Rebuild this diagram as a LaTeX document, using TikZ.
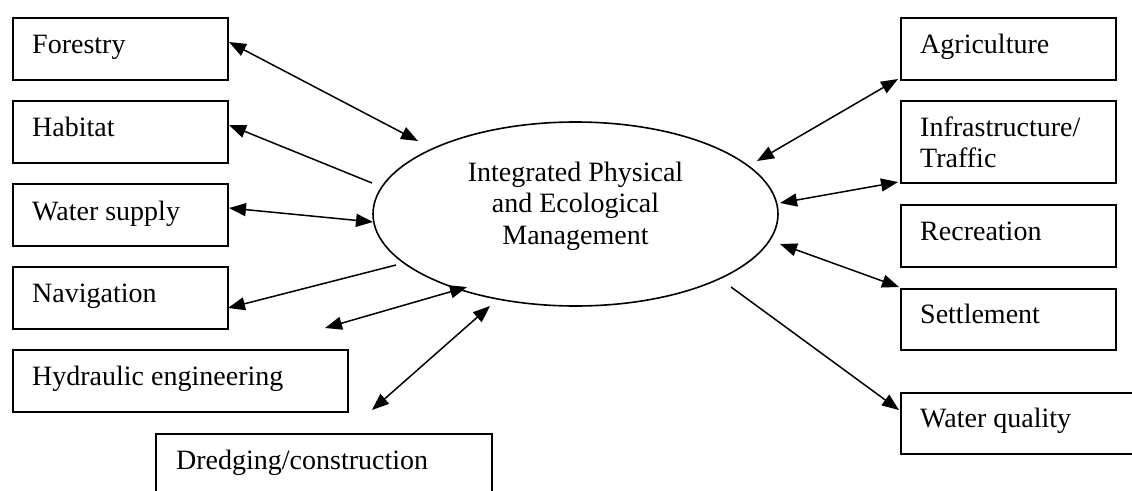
\documentclass[tikz,border=0pt]{standalone}
\usepackage{fontspec}
\setmainfont{Liberation Serif}
\usetikzlibrary{arrows.meta,shapes.geometric}
\tikzset{
  box/.style={draw, line width=2.2pt, anchor=north west, inner sep=0pt, minimum width=215pt, minimum height=62pt},
  lbl/.style={anchor=base west, inner sep=0pt, font=\fontsize{28}{31}\selectfont},
  conn/.style={line width=1.5pt, >={Triangle[length=17pt,width=13pt]}},
}
\begin{document}
\begin{tikzpicture}[x=1pt,y=-1pt]
\useasboundingbox (0,0) rectangle (1132,490);
\clip (0,0) rectangle (1132,490);

% central ellipse
\node[draw, ellipse, line width=1.6pt, minimum width=405pt, minimum height=184pt, inner sep=0pt] (iem) at (575.5,214) {};
\node[anchor=base, inner sep=0pt, font=\fontsize{28}{31.5}\selectfont] (iemT) at (575.5,181)
  {\begin{tabular}[t]{@{}c@{}}Integrated Physical\\and Ecological\\Management\end{tabular}};

% left boxes
\node[box] (forestry) at (12,16.5) {};
\node[lbl] (forestryT) at (32,53.5) {Forestry};
\node[box] (habitat) at (12,99.5) {};
\node[lbl] (habitatT) at (32,136.5) {Habitat};
\node[box] (water) at (12,182.5) {};
\node[lbl] (waterT) at (32,220) {Water supply};
\node[box] (navig) at (12,265.5) {};
\node[lbl] (navigT) at (32,302.5) {Navigation};
\node[box, minimum width=335pt] (hydr) at (12,348.5) {};
\node[lbl] (hydrT) at (32,385.5) {Hydraulic engineering};
\node[box, minimum width=336pt, minimum height=100pt] (dredg) at (155,432.5) {};
\node[lbl] (dredgT) at (176,469) {Dredging/construction};

% right boxes
\node[box] (agri) at (899.5,16.5) {};
\node[lbl] (agriT) at (920,53.5) {Agriculture};
\node[box, minimum height=82pt] (infra) at (899.5,99.5) {};
\node[lbl] (infraT) at (920,136.5) {\begin{tabular}[t]{@{}l@{}}Infrastructure/\\Traffic\end{tabular}};
\node[box] (recr) at (899.5,203.5) {};
\node[lbl] (recrT) at (920,240.5) {Recreation};
\node[box, minimum height=61pt] (settl) at (899.5,287.5) {};
\node[lbl] (settlT) at (920,323.5) {Settlement};
\node[box, minimum width=300pt, minimum height=61pt] (wqual) at (899.5,391.5) {};
\node[lbl] (wqualT) at (920,427.5) {Water quality};

% connector end points
\coordinate (fA) at (229,42);   \coordinate (fB) at (418,141);
\coordinate (hA) at (229,125);  \coordinate (hB) at (372,183);
\coordinate (wA) at (229,208);  \coordinate (wB) at (373,222);
\coordinate (nA) at (228,308);  \coordinate (nB) at (396,265);
\coordinate (yA) at (325,328);  \coordinate (yB) at (467,287);
\coordinate (dA) at (372,410);  \coordinate (dB) at (490,306);
\coordinate (aA) at (898,79);   \coordinate (aB) at (757,161);
\coordinate (iA) at (898,182);  \coordinate (iB) at (780,203);
\coordinate (sA) at (899,287);  \coordinate (sB) at (780,244);
\coordinate (qA) at (899,410);  \coordinate (qB) at (731,287);

\draw[conn,<->] (fA) -- (fB);
\draw[conn,<-]  (hA) -- (hB);
\draw[conn,<->] (wA) -- (wB);
\draw[conn,<-]  (nA) -- (nB);
\draw[conn,<->] (yA) -- (yB);
\draw[conn,<->] (dA) -- (dB);
\draw[conn,<->] (aA) -- (aB);
\draw[conn,<->] (iA) -- (iB);
\draw[conn,<->] (sA) -- (sB);
\draw[conn,<-]  (qA) -- (qB);
\end{tikzpicture}
\end{document}
